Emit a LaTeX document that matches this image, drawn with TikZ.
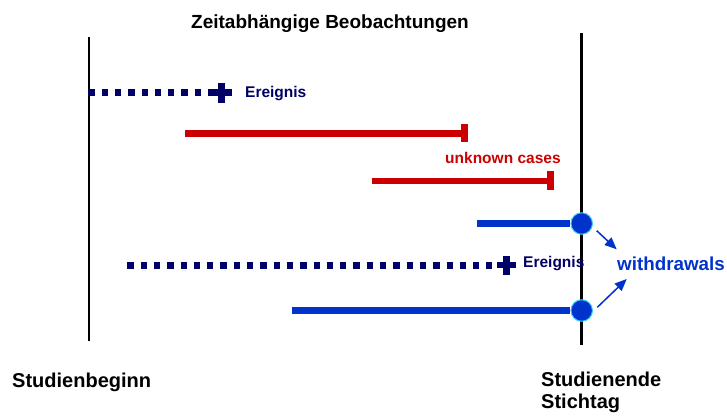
\documentclass[tikz,border=0pt]{standalone}
\usepackage{fontspec}
\setmainfont{Liberation Sans}
\usetikzlibrary{arrows.meta,calc}
\definecolor{navy}{HTML}{000066}
\definecolor{rred}{HTML}{CC0000}
\definecolor{bblue}{HTML}{0033CC}
\definecolor{ccyan}{HTML}{33CCFF}
\begin{document}
\begin{tikzpicture}[x=1pt,y=-1pt,
  lbl/.style={inner sep=0pt, anchor=base west, font=\bfseries\fontsize{#1}{#1}\selectfont},
  dotline/.style={navy, line width=6.5pt, dash pattern=on 6.3pt off 7pt},
  plusarm/.style={navy, line width=6.5pt},
  redline/.style={rred, line width=6.5pt},
  redtick/.style={rred, line width=7pt},
  blueline/.style={bblue, line width=6.8pt},
  wcirc/.style={circle, minimum size=21.5pt, inner sep=0pt, fill=bblue, draw=ccyan, line width=1pt},
  arr/.style={bblue, line width=1.5pt, -{Triangle[length=12pt,width=10pt]}}]
\useasboundingbox (0,0) rectangle (727,416);
% verticals
\coordinate (lt) at (89,37); \coordinate (lb) at (89,341);
\coordinate (rt) at (581.5,33); \coordinate (rb) at (581.5,345);
\draw[line width=2pt] (lt) -- (lb);
\draw[line width=3.3pt] (rt) -- (rb);
% title
\node[lbl=19, anchor=base] (title) at (330,28) {Zeitabhängige Beobachtungen};
% row 1
\coordinate (d1s) at (88.3,92.5); \coordinate (d1e) at (216,92.5);
\draw[dotline] (d1s) -- (d1e);
\coordinate (p1) at (221.7,92.5);
\draw[plusarm] ([xshift=-10pt]p1) -- ([xshift=10pt]p1);
\draw[plusarm] ([yshift=10pt]p1) -- ([yshift=-10pt]p1);
\node[lbl=15.5, navy] (e1) at (245,97) {Ereignis};
% row 2
\coordinate (r2s) at (185,133.3); \coordinate (r2e) at (464.6,133.3);
\draw[redline] (r2s) -- (r2e);
\draw[redtick] ($(r2e)+(0,-9)$) -- ($(r2e)+(0,9)$);
\node[lbl=15.5, rred] (uc) at (445,163) {unknown cases};
% row 3
\coordinate (r3s) at (371.7,181); \coordinate (r3e) at (550.3,181);
\draw[redline] (r3s) -- (r3e);
\draw[redtick] ($(r3e)+(0,-10)$) -- ($(r3e)+(0,9)$);
% row 4
\node[wcirc] (c1) at (581.7,223.5) {};
\coordinate (b1s) at (476.7,223.5);
\draw[blueline] (b1s) -- (c1.west);
% row 5
\coordinate (d2s) at (127.3,265.7); \coordinate (d2e) at (492,265.7);
\draw[dotline] (d2s) -- (d2e);
\coordinate (p2) at (506.7,265);
\draw[plusarm] ([xshift=-9.5pt]p2) -- ([xshift=9.5pt]p2);
\draw[plusarm] ([yshift=9.5pt]p2) -- ([yshift=-9.5pt]p2);
\node[lbl=15.5, navy] (e2) at (523,267) {Ereignis};
% row 6
\node[wcirc] (c2) at (581.7,310.5) {};
\coordinate (b2s) at (292,310.5);
\draw[blueline] (b2s) -- (c2.west);
% withdrawals
\node[lbl=18.8, bblue] (wd) at (617,270) {withdrawals};
\coordinate (a1s) at (596.7,230.7); \coordinate (a1e) at (616.7,249.3);
\coordinate (a2s) at (597.3,307.3); \coordinate (a2e) at (626.7,279);
\draw[arr] (a1s) -- (a1e);
\draw[arr] (a2s) -- (a2e);
% bottom labels
\node[lbl=20] (sb) at (12,387) {Studienbeginn};
\node[lbl=20] (se) at (541,386) {Studienende};
\node[lbl=20] (st) at (541,408) {Stichtag};
\end{tikzpicture}
\end{document}
